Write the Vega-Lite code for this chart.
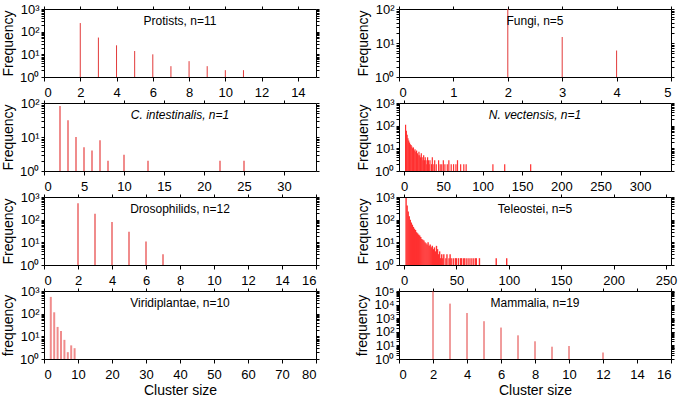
{
  "$schema": "https://vega.github.io/schema/vega-lite/v6.json",
  "background": "white",
  "padding": {"left": 1, "top": 3, "right": 5, "bottom": 3},
  "bounds": "flush",
  "columns": 2,
  "spacing": {"row": 26, "column": 83},
  "config": {
    "view": {"stroke": null},
    "font": "Liberation Sans",
    "axis": {"grid": false, "domain": true, "domainColor": "black", "domainWidth": 1, "ticks": true, "tickColor": "black", "tickWidth": 1, "tickSize": 4, "labelPadding": 5, "labelFont": "Liberation Sans", "labelFontSize": 13, "labelColor": "black", "titleFont": "Liberation Sans", "titleFontSize": 14, "titleFontWeight": "normal", "titleColor": "black"},
    "axisX": {"titlePadding": 2},
    "axisY": {"tickSize": 3, "labelPadding": 2, "titlePadding": 4},
    "title": {"font": "Liberation Sans", "fontSize": 12, "fontWeight": "normal", "color": "black", "frame": "group", "anchor": "middle", "offset": -25}
  },
  "datasets": {
    "protists": [{"size": 2, "freq": 240}, {"size": 3, "freq": 55}, {"size": 4, "freq": 25}, {"size": 5, "freq": 14}, {"size": 6, "freq": 10}, {"size": 7, "freq": 3}, {"size": 8, "freq": 5}, {"size": 9, "freq": 3}, {"size": 10, "freq": 2}, {"size": 11, "freq": 2}],
    "fungi": [{"size": 2, "freq": 100}, {"size": 3, "freq": 15}, {"size": 4, "freq": 6}],
    "cint": [{"size": 2, "freq": 81}, {"size": 3, "freq": 31}, {"size": 4, "freq": 10}, {"size": 5, "freq": 5}, {"size": 6, "freq": 4}, {"size": 7, "freq": 8}, {"size": 8, "freq": 2}, {"size": 10, "freq": 3}, {"size": 13, "freq": 2}, {"size": 22, "freq": 2}, {"size": 25, "freq": 2}],
    "nvec": [{"size": 2, "freq": 110}, {"size": 3, "freq": 60}, {"size": 4, "freq": 40}, {"size": 5, "freq": 28}, {"size": 6, "freq": 22}, {"size": 7, "freq": 18}, {"size": 8, "freq": 15}, {"size": 9, "freq": 14}, {"size": 10, "freq": 12}, {"size": 11, "freq": 10}, {"size": 12, "freq": 11}, {"size": 13, "freq": 8}, {"size": 14, "freq": 9}, {"size": 15, "freq": 7}, {"size": 16, "freq": 8}, {"size": 17, "freq": 6}, {"size": 18, "freq": 5}, {"size": 19, "freq": 7}, {"size": 20, "freq": 5}, {"size": 21, "freq": 4}, {"size": 22, "freq": 6}, {"size": 23, "freq": 4}, {"size": 24, "freq": 3}, {"size": 25, "freq": 5}, {"size": 26, "freq": 3}, {"size": 27, "freq": 4}, {"size": 28, "freq": 3}, {"size": 29, "freq": 2}, {"size": 30, "freq": 4}, {"size": 31, "freq": 3}, {"size": 32, "freq": 2}, {"size": 33, "freq": 3}, {"size": 35, "freq": 2}, {"size": 36, "freq": 4}, {"size": 38, "freq": 2}, {"size": 39, "freq": 3}, {"size": 41, "freq": 2}, {"size": 44, "freq": 3}, {"size": 46, "freq": 2}, {"size": 48, "freq": 2}, {"size": 50, "freq": 3}, {"size": 52, "freq": 2}, {"size": 55, "freq": 2}, {"size": 57, "freq": 3}, {"size": 60, "freq": 2}, {"size": 63, "freq": 2}, {"size": 66, "freq": 2}, {"size": 68, "freq": 3}, {"size": 72, "freq": 2}, {"size": 76, "freq": 2}, {"size": 79, "freq": 2}, {"size": 113, "freq": 2}, {"size": 128, "freq": 2}, {"size": 161, "freq": 2}],
    "droso": [{"size": 2, "freq": 525}, {"size": 3, "freq": 183}, {"size": 4, "freq": 79}, {"size": 5, "freq": 29}, {"size": 6, "freq": 11}, {"size": 7, "freq": 3}],
    "teleo": [{"size": 2, "freq": 900}, {"size": 3, "freq": 420}, {"size": 4, "freq": 230}, {"size": 5, "freq": 140}, {"size": 6, "freq": 100}, {"size": 7, "freq": 75}, {"size": 8, "freq": 60}, {"size": 9, "freq": 48}, {"size": 10, "freq": 40}, {"size": 11, "freq": 35}, {"size": 12, "freq": 28}, {"size": 13, "freq": 25}, {"size": 14, "freq": 22}, {"size": 15, "freq": 20}, {"size": 16, "freq": 17}, {"size": 17, "freq": 14}, {"size": 18, "freq": 13}, {"size": 19, "freq": 12}, {"size": 20, "freq": 10}, {"size": 21, "freq": 9}, {"size": 22, "freq": 8}, {"size": 23, "freq": 10}, {"size": 24, "freq": 7}, {"size": 25, "freq": 8}, {"size": 26, "freq": 6}, {"size": 27, "freq": 7}, {"size": 28, "freq": 5}, {"size": 29, "freq": 6}, {"size": 30, "freq": 4}, {"size": 31, "freq": 7}, {"size": 32, "freq": 5}, {"size": 33, "freq": 3}, {"size": 34, "freq": 4}, {"size": 35, "freq": 2}, {"size": 36, "freq": 3}, {"size": 37, "freq": 2}, {"size": 38, "freq": 3}, {"size": 40, "freq": 2}, {"size": 41, "freq": 3}, {"size": 43, "freq": 2}, {"size": 44, "freq": 3}, {"size": 45, "freq": 2}, {"size": 47, "freq": 2}, {"size": 49, "freq": 2}, {"size": 50, "freq": 2}, {"size": 52, "freq": 2}, {"size": 54, "freq": 2}, {"size": 55, "freq": 2}, {"size": 57, "freq": 2}, {"size": 58, "freq": 2}, {"size": 60, "freq": 2}, {"size": 62, "freq": 2}, {"size": 64, "freq": 2}, {"size": 66, "freq": 2}, {"size": 68, "freq": 2}, {"size": 69, "freq": 2}, {"size": 72, "freq": 2}, {"size": 88, "freq": 2}, {"size": 98, "freq": 2}],
    "viri": [{"size": 2, "freq": 550}, {"size": 3, "freq": 115}, {"size": 4, "freq": 26}, {"size": 5, "freq": 17}, {"size": 6, "freq": 7}, {"size": 7, "freq": 2}, {"size": 8, "freq": 4}, {"size": 9, "freq": 3}],
    "mamm": [{"size": 2, "freq": 95000}, {"size": 3, "freq": 11800}, {"size": 4, "freq": 2400}, {"size": 5, "freq": 600}, {"size": 6, "freq": 205}, {"size": 7, "freq": 55}, {"size": 8, "freq": 20}, {"size": 9, "freq": 8}, {"size": 10, "freq": 9}, {"size": 12, "freq": 3}]
  },
  "concat": [
    {
      "width": 272, "height": 68,
      "title": {"text": "Protists, n=11"},
      "data": {"name": "protists"},
      "layer": [
        {"mark": {"type": "rule", "color": "#e23a3a", "strokeWidth": 1},
         "encoding": {
           "x": {"field": "size", "type": "quantitative", "scale": {"domain": [0, 15], "nice": false, "zero": false}, "axis": {"orient": "bottom", "values": [0, 2, 4, 6, 8, 10, 12, 14], "title": null}},
           "y": {"field": "freq", "type": "quantitative", "scale": {"type": "log", "domain": [1, 1000], "nice": false}, "axis": {"orient": "left", "title": "Frequency", "values": [1, 2, 3, 4, 5, 6, 7, 8, 9, 10, 20, 30, 40, 50, 60, 70, 80, 90, 100, 200, 300, 400, 500, 600, 700, 800, 900, 1000], "labelExpr": "datum.value==1?'10⁰':datum.value==10?'10¹':datum.value==100?'10²':datum.value==1000?'10³':datum.value==10000?'10⁴':datum.value==100000?'10⁵':''"}},
           "y2": {"datum": 1}}},
        {"mark": {"type": "rule", "opacity": 0},
         "encoding": {
           "x": {"field": "size", "type": "quantitative", "scale": {"domain": [0, 15], "nice": false, "zero": false}, "axis": {"orient": "top", "values": [0, 2, 4, 6, 8, 10, 12, 14], "labels": false, "title": null, "tickSize": 3}},
           "y": {"field": "freq", "type": "quantitative", "scale": {"type": "log", "domain": [1, 1000], "nice": false}, "axis": {"orient": "right", "title": null, "labels": false, "values": [1, 2, 3, 4, 5, 6, 7, 8, 9, 10, 20, 30, 40, 50, 60, 70, 80, 90, 100, 200, 300, 400, 500, 600, 700, 800, 900, 1000]}},
           "y2": {"datum": 1}}}
      ]
    },
    {
      "width": 272, "height": 68,
      "title": {"text": "Fungi, n=5"},
      "data": {"name": "fungi"},
      "layer": [
        {"mark": {"type": "rule", "color": "#e23a3a", "strokeWidth": 1},
         "encoding": {
           "x": {"field": "size", "type": "quantitative", "scale": {"domain": [0, 5], "nice": false, "zero": false}, "axis": {"orient": "bottom", "values": [0, 1, 2, 3, 4, 5], "title": null}},
           "y": {"field": "freq", "type": "quantitative", "scale": {"type": "log", "domain": [1, 100], "nice": false}, "axis": {"orient": "left", "title": "Frequency", "values": [1, 2, 3, 4, 5, 6, 7, 8, 9, 10, 20, 30, 40, 50, 60, 70, 80, 90, 100], "labelExpr": "datum.value==1?'10⁰':datum.value==10?'10¹':datum.value==100?'10²':datum.value==1000?'10³':datum.value==10000?'10⁴':datum.value==100000?'10⁵':''"}},
           "y2": {"datum": 1}}},
        {"mark": {"type": "rule", "opacity": 0},
         "encoding": {
           "x": {"field": "size", "type": "quantitative", "scale": {"domain": [0, 5], "nice": false, "zero": false}, "axis": {"orient": "top", "values": [0, 1, 2, 3, 4, 5], "labels": false, "title": null, "tickSize": 3}},
           "y": {"field": "freq", "type": "quantitative", "scale": {"type": "log", "domain": [1, 100], "nice": false}, "axis": {"orient": "right", "title": null, "labels": false, "values": [1, 2, 3, 4, 5, 6, 7, 8, 9, 10, 20, 30, 40, 50, 60, 70, 80, 90, 100]}},
           "y2": {"datum": 1}}}
      ]
    },
    {
      "width": 272, "height": 68,
      "title": {"text": "C. intestinalis, n=1", "fontStyle": "italic"},
      "data": {"name": "cint"},
      "layer": [
        {"mark": {"type": "rule", "color": "#f08c8c", "strokeWidth": 2},
         "encoding": {
           "x": {"field": "size", "type": "quantitative", "scale": {"domain": [0, 34], "nice": false, "zero": false}, "axis": {"orient": "bottom", "values": [0, 5, 10, 15, 20, 25, 30], "title": null}},
           "y": {"field": "freq", "type": "quantitative", "scale": {"type": "log", "domain": [1, 100], "nice": false}, "axis": {"orient": "left", "title": "Frequency", "values": [1, 2, 3, 4, 5, 6, 7, 8, 9, 10, 20, 30, 40, 50, 60, 70, 80, 90, 100], "labelExpr": "datum.value==1?'10⁰':datum.value==10?'10¹':datum.value==100?'10²':datum.value==1000?'10³':datum.value==10000?'10⁴':datum.value==100000?'10⁵':''"}},
           "y2": {"datum": 1}}},
        {"mark": {"type": "rule", "opacity": 0},
         "encoding": {
           "x": {"field": "size", "type": "quantitative", "scale": {"domain": [0, 34], "nice": false, "zero": false}, "axis": {"orient": "top", "values": [0, 5, 10, 15, 20, 25, 30], "labels": false, "title": null, "tickSize": 3}},
           "y": {"field": "freq", "type": "quantitative", "scale": {"type": "log", "domain": [1, 100], "nice": false}, "axis": {"orient": "right", "title": null, "labels": false, "values": [1, 2, 3, 4, 5, 6, 7, 8, 9, 10, 20, 30, 40, 50, 60, 70, 80, 90, 100]}},
           "y2": {"datum": 1}}}
      ]
    },
    {
      "width": 272, "height": 68,
      "title": {"text": "N. vectensis, n=1", "fontStyle": "italic"},
      "data": {"name": "nvec"},
      "layer": [
        {"mark": {"type": "bar", "color": "#ff3030", "width": 1.2},
         "encoding": {
           "x": {"field": "size", "type": "quantitative", "scale": {"domain": [0, 333], "nice": false, "zero": false}, "axis": {"orient": "bottom", "values": [0, 50, 100, 150, 200, 250, 300], "title": null}},
           "y": {"field": "freq", "type": "quantitative", "scale": {"type": "log", "domain": [1, 1000], "nice": false}, "axis": {"orient": "left", "title": "Frequency", "values": [1, 2, 3, 4, 5, 6, 7, 8, 9, 10, 20, 30, 40, 50, 60, 70, 80, 90, 100, 200, 300, 400, 500, 600, 700, 800, 900, 1000], "labelExpr": "datum.value==1?'10⁰':datum.value==10?'10¹':datum.value==100?'10²':datum.value==1000?'10³':datum.value==10000?'10⁴':datum.value==100000?'10⁵':''"}},
           "y2": {"datum": 1}}},
        {"mark": {"type": "rule", "opacity": 0},
         "encoding": {
           "x": {"field": "size", "type": "quantitative", "scale": {"domain": [0, 333], "nice": false, "zero": false}, "axis": {"orient": "top", "values": [0, 50, 100, 150, 200, 250, 300], "labels": false, "title": null, "tickSize": 3}},
           "y": {"field": "freq", "type": "quantitative", "scale": {"type": "log", "domain": [1, 1000], "nice": false}, "axis": {"orient": "right", "title": null, "labels": false, "values": [1, 2, 3, 4, 5, 6, 7, 8, 9, 10, 20, 30, 40, 50, 60, 70, 80, 90, 100, 200, 300, 400, 500, 600, 700, 800, 900, 1000]}},
           "y2": {"datum": 1}}}
      ]
    },
    {
      "width": 272, "height": 68,
      "title": {"text": "Drosophilids, n=12"},
      "data": {"name": "droso"},
      "layer": [
        {"mark": {"type": "rule", "color": "#f08c8c", "strokeWidth": 2},
         "encoding": {
           "x": {"field": "size", "type": "quantitative", "scale": {"domain": [0, 16], "nice": false, "zero": false}, "axis": {"orient": "bottom", "values": [0, 2, 4, 6, 8, 10, 12, 14, 16], "title": null}},
           "y": {"field": "freq", "type": "quantitative", "scale": {"type": "log", "domain": [1, 1000], "nice": false}, "axis": {"orient": "left", "title": "Frequency", "values": [1, 2, 3, 4, 5, 6, 7, 8, 9, 10, 20, 30, 40, 50, 60, 70, 80, 90, 100, 200, 300, 400, 500, 600, 700, 800, 900, 1000], "labelExpr": "datum.value==1?'10⁰':datum.value==10?'10¹':datum.value==100?'10²':datum.value==1000?'10³':datum.value==10000?'10⁴':datum.value==100000?'10⁵':''"}},
           "y2": {"datum": 1}}},
        {"mark": {"type": "rule", "opacity": 0},
         "encoding": {
           "x": {"field": "size", "type": "quantitative", "scale": {"domain": [0, 16], "nice": false, "zero": false}, "axis": {"orient": "top", "values": [0, 2, 4, 6, 8, 10, 12, 14, 16], "labels": false, "title": null, "tickSize": 3}},
           "y": {"field": "freq", "type": "quantitative", "scale": {"type": "log", "domain": [1, 1000], "nice": false}, "axis": {"orient": "right", "title": null, "labels": false, "values": [1, 2, 3, 4, 5, 6, 7, 8, 9, 10, 20, 30, 40, 50, 60, 70, 80, 90, 100, 200, 300, 400, 500, 600, 700, 800, 900, 1000]}},
           "y2": {"datum": 1}}}
      ]
    },
    {
      "width": 272, "height": 68,
      "title": {"text": "Teleostei, n=5"},
      "data": {"name": "teleo"},
      "layer": [
        {"mark": {"type": "bar", "color": "#ff3030", "width": 1.4},
         "encoding": {
           "x": {"field": "size", "type": "quantitative", "scale": {"domain": [0, 250], "nice": false, "zero": false}, "axis": {"orient": "bottom", "values": [0, 50, 100, 150, 200, 250], "title": null}},
           "y": {"field": "freq", "type": "quantitative", "scale": {"type": "log", "domain": [1, 1000], "nice": false}, "axis": {"orient": "left", "title": "Frequency", "values": [1, 2, 3, 4, 5, 6, 7, 8, 9, 10, 20, 30, 40, 50, 60, 70, 80, 90, 100, 200, 300, 400, 500, 600, 700, 800, 900, 1000], "labelExpr": "datum.value==1?'10⁰':datum.value==10?'10¹':datum.value==100?'10²':datum.value==1000?'10³':datum.value==10000?'10⁴':datum.value==100000?'10⁵':''"}},
           "y2": {"datum": 1}}},
        {"mark": {"type": "rule", "opacity": 0},
         "encoding": {
           "x": {"field": "size", "type": "quantitative", "scale": {"domain": [0, 250], "nice": false, "zero": false}, "axis": {"orient": "top", "values": [0, 50, 100, 150, 200, 250], "labels": false, "title": null, "tickSize": 3}},
           "y": {"field": "freq", "type": "quantitative", "scale": {"type": "log", "domain": [1, 1000], "nice": false}, "axis": {"orient": "right", "title": null, "labels": false, "values": [1, 2, 3, 4, 5, 6, 7, 8, 9, 10, 20, 30, 40, 50, 60, 70, 80, 90, 100, 200, 300, 400, 500, 600, 700, 800, 900, 1000]}},
           "y2": {"datum": 1}}}
      ]
    },
    {
      "width": 272, "height": 68,
      "title": {"text": "Viridiplantae, n=10"},
      "data": {"name": "viri"},
      "layer": [
        {"mark": {"type": "rule", "color": "#f08c8c", "strokeWidth": 2},
         "encoding": {
           "x": {"field": "size", "type": "quantitative", "scale": {"domain": [0, 80], "nice": false, "zero": false}, "axis": {"orient": "bottom", "values": [0, 10, 20, 30, 40, 50, 60, 70, 80], "title": "Cluster size"}},
           "y": {"field": "freq", "type": "quantitative", "scale": {"type": "log", "domain": [1, 1000], "nice": false}, "axis": {"orient": "left", "title": "frequency", "values": [1, 2, 3, 4, 5, 6, 7, 8, 9, 10, 20, 30, 40, 50, 60, 70, 80, 90, 100, 200, 300, 400, 500, 600, 700, 800, 900, 1000], "labelExpr": "datum.value==1?'10⁰':datum.value==10?'10¹':datum.value==100?'10²':datum.value==1000?'10³':datum.value==10000?'10⁴':datum.value==100000?'10⁵':''"}},
           "y2": {"datum": 1}}},
        {"mark": {"type": "rule", "opacity": 0},
         "encoding": {
           "x": {"field": "size", "type": "quantitative", "scale": {"domain": [0, 80], "nice": false, "zero": false}, "axis": {"orient": "top", "values": [0, 10, 20, 30, 40, 50, 60, 70, 80], "labels": false, "title": null, "tickSize": 3}},
           "y": {"field": "freq", "type": "quantitative", "scale": {"type": "log", "domain": [1, 1000], "nice": false}, "axis": {"orient": "right", "title": null, "labels": false, "values": [1, 2, 3, 4, 5, 6, 7, 8, 9, 10, 20, 30, 40, 50, 60, 70, 80, 90, 100, 200, 300, 400, 500, 600, 700, 800, 900, 1000]}},
           "y2": {"datum": 1}}}
      ]
    },
    {
      "width": 272, "height": 68,
      "title": {"text": "Mammalia, n=19"},
      "data": {"name": "mamm"},
      "layer": [
        {"mark": {"type": "rule", "color": "#e23a3a", "strokeWidth": 1},
         "encoding": {
           "x": {"field": "size", "type": "quantitative", "scale": {"domain": [0, 16], "nice": false, "zero": false}, "axis": {"orient": "bottom", "values": [0, 2, 4, 6, 8, 10, 12, 14, 16], "title": "Cluster size"}},
           "y": {"field": "freq", "type": "quantitative", "scale": {"type": "log", "domain": [1, 100000], "nice": false}, "axis": {"orient": "left", "title": "frequency", "values": [1, 2, 3, 4, 5, 6, 7, 8, 9, 10, 20, 30, 40, 50, 60, 70, 80, 90, 100, 200, 300, 400, 500, 600, 700, 800, 900, 1000, 2000, 3000, 4000, 5000, 6000, 7000, 8000, 9000, 10000, 20000, 30000, 40000, 50000, 60000, 70000, 80000, 90000, 100000], "labelExpr": "datum.value==1?'10⁰':datum.value==10?'10¹':datum.value==100?'10²':datum.value==1000?'10³':datum.value==10000?'10⁴':datum.value==100000?'10⁵':''"}},
           "y2": {"datum": 1}}},
        {"mark": {"type": "rule", "opacity": 0},
         "encoding": {
           "x": {"field": "size", "type": "quantitative", "scale": {"domain": [0, 16], "nice": false, "zero": false}, "axis": {"orient": "top", "values": [0, 2, 4, 6, 8, 10, 12, 14, 16], "labels": false, "title": null, "tickSize": 3}},
           "y": {"field": "freq", "type": "quantitative", "scale": {"type": "log", "domain": [1, 100000], "nice": false}, "axis": {"orient": "right", "title": null, "labels": false, "values": [1, 2, 3, 4, 5, 6, 7, 8, 9, 10, 20, 30, 40, 50, 60, 70, 80, 90, 100, 200, 300, 400, 500, 600, 700, 800, 900, 1000, 2000, 3000, 4000, 5000, 6000, 7000, 8000, 9000, 10000, 20000, 30000, 40000, 50000, 60000, 70000, 80000, 90000, 100000]}},
           "y2": {"datum": 1}}}
      ]
    }
  ]
}
